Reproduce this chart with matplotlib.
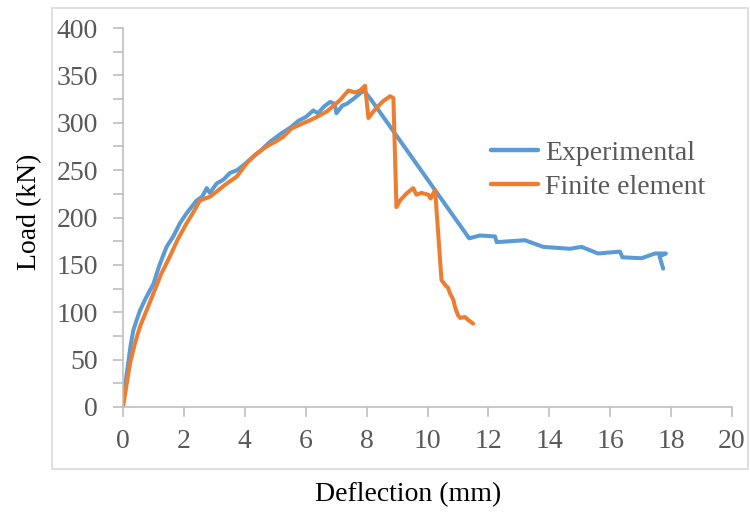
import matplotlib
matplotlib.use("Agg")
import matplotlib.pyplot as plt
from matplotlib.patches import Rectangle
from matplotlib.ticker import MultipleLocator

# ===== data =====
exp_x = [0, 0.03, 0.1, 0.17, 0.25, 0.34, 0.45, 0.56, 0.75, 1.0, 1.2, 1.43, 1.65,
         1.87, 2.1, 2.42, 2.6, 2.75, 2.85, 3.08, 3.3, 3.51, 3.75, 3.95, 4.2, 4.5,
         4.83, 5.0, 5.21, 5.5, 5.76, 6.0, 6.25, 6.4, 6.6, 6.8, 6.95, 7.01, 7.2,
         7.35, 7.6, 7.9, 8.11, 11.37, 11.72, 12.22, 12.27, 13.2, 13.8, 14.68,
         15.06, 15.6, 16.32, 16.4, 17.03, 17.47, 17.83, 17.62, 17.74]
exp_y = [0, 20, 30, 46, 65, 81, 92, 102, 115, 130, 150, 169, 180,
         194, 205, 218, 222, 231, 226, 236, 240, 247, 250, 255, 262, 270,
         280, 284, 289, 295, 302, 306, 313, 310, 317, 322, 320, 310, 318,
         320, 326, 334, 326, 178, 181, 180, 174, 176, 169, 167,
         169, 162, 164, 158, 157, 162, 162, 159, 146]

fe_x = [0, 0.07, 0.15, 0.23, 0.4, 0.56, 0.8, 1.0, 1.25, 1.54, 1.8, 2.09, 2.3,
        2.53, 2.86, 3.1, 3.29, 3.5, 3.73, 4.06, 4.33, 4.72, 5.0, 5.26, 5.54,
        5.81, 6.1, 6.36, 6.7, 7.13, 7.4, 7.62, 7.78, 7.95, 8.06, 8.3, 8.55,
        8.77, 8.88, 8.98, 9.1, 9.3, 9.53, 9.64, 9.8, 10.03, 10.1, 10.25,
        10.46, 10.6, 10.67, 10.74, 10.85, 10.9, 11.0, 11.07, 11.23, 11.33, 11.5]
fe_y = [0, 14, 30, 46, 68, 85, 104, 120, 140, 159, 177, 194, 205,
        218, 222, 228, 233, 238, 243, 257, 266, 275, 280, 285, 294,
        298, 302, 306, 312, 324, 334, 332, 334, 339, 305, 315, 323,
        328, 326, 211, 218, 225, 231, 224, 226, 224, 220, 229,
        134, 128, 126, 120, 113, 106, 97, 94, 95, 92, 88]

labels = ["Experimental", "Finite element"]

# ===== style =====
plt.rcParams["font.family"] = ["Liberation Serif", "DejaVu Serif"]
BLUE = "#5B9BD5"
ORANGE = "#ED7D31"
GRAY_TXT = "#595959"
GRAY_AX = "#BFBFBF"
FS = 20

W, H = 750, 515
fig = plt.figure(figsize=(W / 100, H / 100), dpi=100)

# Excel-style plot area border
fig.patches.append(Rectangle((52 / W, 1 - 469 / H), (748 - 52) / W, (469 - 8) / H,
                             transform=fig.transFigure, fill=False,
                             edgecolor="#D9D9D9", linewidth=1.2))

ax = fig.add_axes([123 / W, 1 - 407 / H, (732 - 123) / W, (407 - 28) / H])
ax.set_facecolor("none")

ax.plot(exp_x, exp_y, color=BLUE, lw=2.9, solid_joinstyle="round",
        solid_capstyle="round", label=labels[0])
ax.plot(fe_x, fe_y, color=ORANGE, lw=2.9, solid_joinstyle="round",
        solid_capstyle="round", label=labels[1])

ax.set_xlim(0, 20)
ax.set_ylim(0, 400)
ax.xaxis.set_major_locator(MultipleLocator(2))
ax.yaxis.set_major_locator(MultipleLocator(50))
ax.yaxis.set_minor_locator(MultipleLocator(25))

for s in ("top", "right"):
    ax.spines[s].set_visible(False)
for s in ("left", "bottom"):
    ax.spines[s].set_color(GRAY_AX)
    ax.spines[s].set_linewidth(1.2)

ax.tick_params(axis="both", which="both", direction="out", length=7,
               width=1.2, color=GRAY_AX, labelcolor=GRAY_TXT, labelsize=FS)
ax.tick_params(axis="y", which="major", pad=11)
ax.tick_params(axis="x", which="major", pad=9)

fig.text(408 / W, 1 - 495 / H, "Deflection (mm)", ha="center", va="center",
         fontsize=FS, color="black")
fig.text(30 / W, 1 - 212 / H, "Load (kN)", ha="center", va="center",
         rotation=90, fontsize=FS, color="black")

leg = ax.legend(loc="center left", bbox_to_anchor=(491 / W, 1 - 170 / H),
                bbox_transform=fig.transFigure, frameon=False, fontsize=FS,
                handlelength=1.7, handletextpad=0.25, labelspacing=0.3,
                borderpad=0, borderaxespad=0)
for t in leg.get_texts():
    t.set_color(GRAY_TXT)
for l in leg.get_lines():
    l.set_linewidth(3.2)

fig.savefig("out.png", dpi=100)
